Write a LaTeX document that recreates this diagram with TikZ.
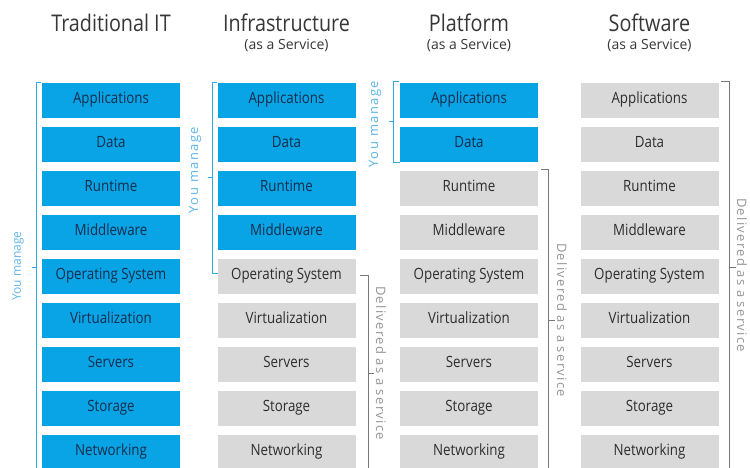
\documentclass[tikz,border=0pt]{standalone}
\usepackage{fontspec}
\setmainfont[FakeStretch=0.86]{Open Sans}
\newfontfamily\subfont{Open Sans}
\newfontfamily\sidefont[LetterSpace=10]{Open Sans}
\newfontfamily\ymfont[LetterSpace=11]{Open Sans}
\newfontfamily\ymfontA{Open Sans}
\definecolor{boxblue}{RGB}{8,164,230}
\definecolor{txtblue}{RGB}{22,45,75}
\definecolor{boxgrey}{RGB}{217,217,217}
\definecolor{txtgrey}{RGB}{45,45,45}
\definecolor{titlecol}{RGB}{55,55,55}
\definecolor{lineblue}{RGB}{45,170,225}
\definecolor{ymcol}{RGB}{95,182,230}
\definecolor{linegrey}{RGB}{120,120,120}
\definecolor{delcol}{RGB}{150,150,150}
\begin{document}
\begin{tikzpicture}[x=1pt,y=-1pt,
  box/.style={minimum width=138pt, minimum height=35pt, inner sep=0pt,
    text height=11.5pt, text depth=5.5pt, font=\fontsize{15.5}{17}\selectfont},
  bluebox/.style={box, fill=boxblue, text=txtblue},
  greybox/.style={box, fill=boxgrey, text=txtgrey},
  title/.style={anchor=base, inner sep=0pt, text=titlecol, font=\fontsize{23}{26}\selectfont},
  subtitle/.style={anchor=base, inner sep=0pt, text=titlecol, font=\subfont\fontsize{14}{16}\selectfont},
  ymlabel/.style={rotate=90, inner sep=0pt, text=ymcol, font=\ymfont\fontsize{13}{15}\selectfont},
  ymlabelA/.style={rotate=90, inner sep=0pt, text=ymcol, font=\ymfontA\fontsize{12}{14}\selectfont},
  dellabel/.style={rotate=-90, inner sep=0pt, text=delcol, font=\sidefont\fontsize{13}{15}\selectfont},
  mbracket/.style={draw=lineblue, line width=1pt},
  dbracket/.style={draw=linegrey, line width=1pt}]
\useasboundingbox (0,0) rectangle (750,468);
\fill[white] (0,0) rectangle (750,468);

% titles
\node[title] (t1) at (111,32) {Traditional IT};
\node[title] (t2) at (286.5,32) {Infrastructure};
\node[subtitle] (s2) at (286.5,50) {(as a Service)};
\node[title] (t3) at (469,32) {Platform};
\node[subtitle] (s3) at (469,50) {(as a Service)};
\node[title] (t4) at (649.5,32) {Software};
\node[subtitle] (s4) at (649.5,50) {(as a Service)};

% boxes
\foreach \lab [count=\i] in {Applications,Data,Runtime,Middleware,Operating System,Virtualization,Servers,Storage,Networking} {
  \pgfmathsetmacro\yy{100.5+44*(\i-1)}
  \node[bluebox] (a\i) at (111,\yy) {\lab};
  \ifnum\i<5 \def\stB{bluebox}\else\def\stB{greybox}\fi
  \node[\stB] (b\i) at (286.5,\yy) {\lab};
  \ifnum\i<3 \def\stC{bluebox}\else\def\stC{greybox}\fi
  \node[\stC] (c\i) at (469,\yy) {\lab};
  \node[greybox] (d\i) at (649.5,\yy) {\lab};
}

% Traditional IT: you manage
\draw[mbracket] (41,83) -- (36,83) -- (36,472);
\draw[mbracket] (36,267) -- (32,267);
\node[ymlabelA] (ym1) at (18,266) {You manage};

% IaaS: you manage
\draw[mbracket] (217,83) -- (212,83) -- (212,273) -- (218,273);
\draw[mbracket] (212,178) -- (208,178);
\node[ymlabel] (ym2) at (195,170) {You manage};

% IaaS: delivered
\draw[dbracket] (360,275) -- (368,275) -- (368,472);
\draw[dbracket] (368,373) -- (374,373);
\node[dellabel] (dl2) at (381,363) {Delivered as a service};

% PaaS: you manage
\draw[mbracket] (399,82) -- (393,82) -- (393,163) -- (400,163);
\draw[mbracket] (393,122) -- (389,122);
\node[ymlabel] (ym3) at (375,124) {You manage};

% PaaS: delivered
\draw[dbracket] (541,170) -- (548,170) -- (548,472);
\draw[dbracket] (548,320) -- (555,320);
\node[dellabel] (dl3) at (562,320) {Delivered as a service};

% SaaS: delivered
\draw[dbracket] (721,82) -- (729,82) -- (729,472);
\draw[dbracket] (729,267) -- (736,267);
\node[dellabel] (dl4) at (742,275) {Delivered as a service};
\end{tikzpicture}
\end{document}
